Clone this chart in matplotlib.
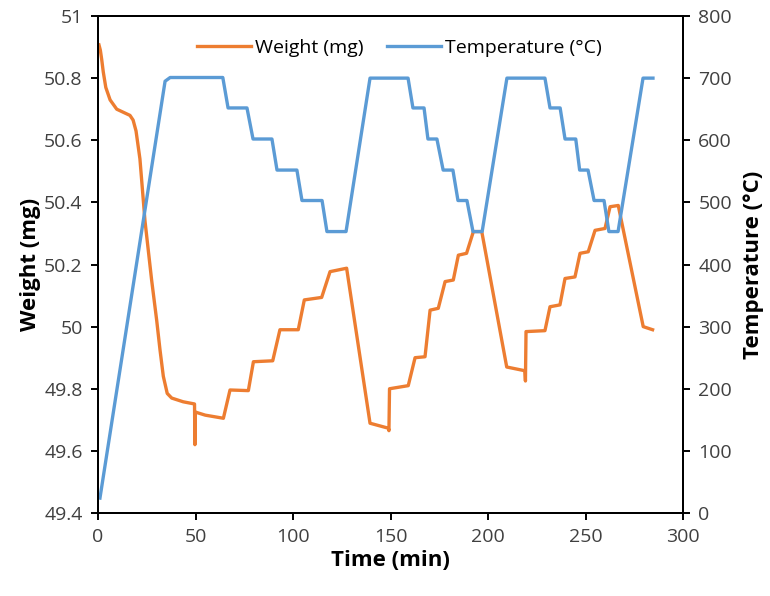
import numpy as np
import matplotlib as mpl
mpl.use('Agg')
import matplotlib.pyplot as plt

# weight trace (min, mg)
weight_time = [0.5, 1.2, 1.9, 2.7, 4.0, 6.2, 9.6, 13.0, 16.4, 18.0, 19.5, 21.5, 24.1, 27.5, 30.1,
               31.8, 33.5, 35.5, 37.8, 43.7,
               49.5, 49.7, 49.9, 55.0, 64.3, 67.7, 77.1, 79.7, 89.6, 93.3, 102.7, 105.8, 114.7,
               119.0, 127.5, 139.5, 148.9, 149.2, 149.5, 159.1, 162.6, 167.7, 170.3, 174.5, 178.0,
               182.2, 184.8, 189.0, 192.5, 196.8, 209.6, 218.9, 219.2, 219.5, 229.2, 231.8, 236.9,
               239.5, 244.6, 247.2, 251.4, 254.9, 260.0, 262.6, 266.8, 279.6, 284.4]
weight_mg = [50.907, 50.89, 50.86, 50.82, 50.77, 50.73, 50.70, 50.69, 50.68, 50.665, 50.63, 50.54,
             50.34, 50.15, 50.02, 49.925, 49.84, 49.785, 49.77, 49.758,
             49.751, 49.62, 49.725, 49.715, 49.705, 49.796, 49.794, 49.887,
             49.89, 49.99, 49.99, 50.086, 50.094, 50.177, 50.188, 49.689, 49.673, 49.665, 49.80,
             49.81, 49.90, 49.903, 50.053, 50.059, 50.145, 50.15, 50.23, 50.236, 50.306, 50.306,
             49.87, 49.858, 49.825, 49.984, 49.987, 50.064, 50.07, 50.155, 50.16, 50.236, 50.241,
             50.31, 50.316, 50.386, 50.39, 50.0, 49.99]

# temperature program (min, degC)
temp_time = [1.0, 34.4, 37.0, 64.0, 66.7, 76.4, 79.5, 89.2, 91.8, 102.0, 104.6, 114.9, 117.4,
             127.2, 139.5, 159.0, 161.5, 167.2, 169.2, 173.8, 177.0, 182.0, 184.6, 189.2, 192.3,
             197.0, 209.7, 229.2, 231.8, 237.0, 239.5, 245.0, 247.0, 251.3, 254.4, 259.5, 262.0,
             266.7, 279.5, 284.6]
temp_c = [24, 695, 701, 701, 652, 652, 602, 602, 552, 552, 503, 503, 453, 453, 700, 700, 652, 652,
          602, 602, 552, 552, 503, 503, 453, 453, 700, 700, 652, 652, 602, 602, 552, 552, 503,
          503, 453, 453, 700, 700]

orange = '#ED7D31'
blue = '#5B9BD5'

mpl.rcParams.update({
    "font.family": ["Open Sans", "DejaVu Sans"],
    "font.size": 14,
    "axes.linewidth": 1.4,
    "xtick.major.width": 1.4,
    "ytick.major.width": 1.4,
    "xtick.major.size": 5,
    "ytick.major.size": 5,
    "xtick.direction": "out",
    "ytick.direction": "out",
})

fig = plt.figure(figsize=(7.7, 5.96), dpi=100)
ax = fig.add_axes([98/770, 83/596, 585/770, 497/596])
ax2 = ax.twinx()

lw = 2.4
l1, = ax.plot(weight_time, weight_mg, color=orange, lw=lw, solid_joinstyle='round',
              label='Weight (mg)')
l2, = ax2.plot(temp_time, temp_c, color=blue, lw=lw, solid_joinstyle='round',
               label='Temperature (°C)')

ax.set_xlim(0, 300)
ax.set_ylim(49.4, 51)
ax2.set_ylim(0, 800)
ax.set_xticks(np.arange(0, 301, 50))
ax.set_yticks(np.arange(49.4, 51.01, 0.2))
ax.set_yticklabels(['49.4', '49.6', '49.8', '50', '50.2', '50.4', '50.6', '50.8', '51'])
ax2.set_yticks(np.arange(0, 801, 100))

for a in (ax, ax2):
    a.tick_params(labelsize=14, colors='black', labelcolor='#404040', pad=6)
    for s in a.spines.values():
        s.set_color('black')

ax.set_xlabel('Time (min)', fontsize=16, fontweight='bold', labelpad=3)
ax.set_ylabel('Weight (mg)', fontsize=16, fontweight='bold', labelpad=2)
ax2.set_ylabel('Temperature (°C)', fontsize=16, fontweight='bold', labelpad=8)

ax.legend(handles=[l1, l2], loc='center', bbox_to_anchor=(0.515, 0.935), ncol=2,
          frameon=False, fontsize=14, handlelength=2.8, columnspacing=1.2,
          handletextpad=0.2)

fig.savefig('out.png', dpi=100)
